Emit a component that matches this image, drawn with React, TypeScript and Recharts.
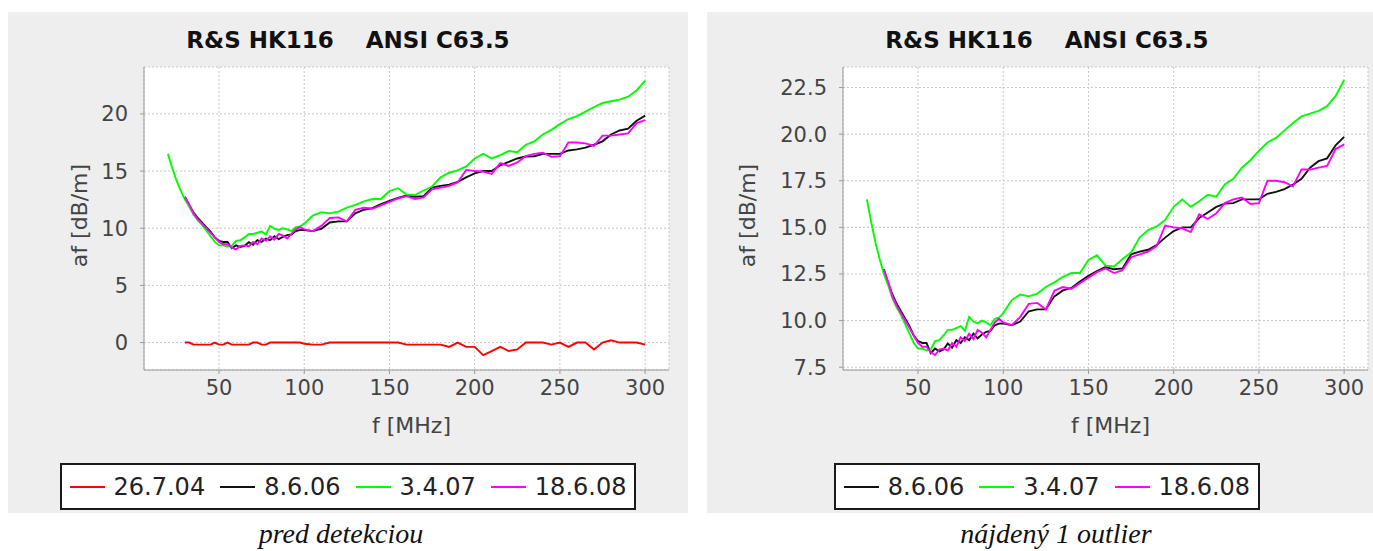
import React from 'react';
import { LineChart, Line, XAxis, YAxis, CartesianGrid, Legend, Label } from 'recharts';

// frequencies [MHz]
const freqsLow = [20, 22.5, 25, 27.5];
const freqs = [
  30, 32.5, 35, 37.5, 40, 42.5, 45, 47.5, 50, 52.5, 55, 57.5, 60, 62.5, 65, 67.5, 70, 72.5, 75, 77.5,
  80, 82.5, 85, 87.5, 90, 92.5, 95, 97.5, 100, 105, 110, 115, 120, 125, 130, 135, 140, 145, 150,
  155, 160, 165, 170, 175, 180, 185, 190, 195, 200, 205, 210, 215, 220, 225, 230, 235, 240, 245, 250,
  255, 260, 265, 270, 275, 280, 285, 290, 295, 300,
];

// af [dB/m] per measurement date
const af260704 = [
  0, 0, -0.18, -0.18, -0.18, -0.18, -0.18, 0, -0.18, -0.18, 0, -0.18, -0.18, -0.18, -0.18, -0.18, 0, 0, -0.18, -0.18,
  0, 0, 0, 0, 0, 0, 0, 0, -0.1, -0.18, -0.18, 0, 0, 0, 0, 0, 0, 0, 0,
  0, -0.18, -0.18, -0.18, -0.18, -0.18, -0.38, 0, -0.38, -0.38, -1.1, -0.75, -0.38, -0.74, -0.6, 0, 0, 0, -0.18, 0,
  -0.38, 0, 0, -0.6, 0, 0.2, 0, 0, 0, -0.18,
];
const af080606 = [
  12.75, 12.0, 11.4, 10.9, 10.5, 10.1, 9.7, 9.2, 8.9, 8.8, 8.8, 8.25, 8.5, 8.35, 8.45, 8.77, 8.55, 8.95, 8.8, 9.1,
  8.95, 9.3, 9.05, 9.25, 9.4, 9.45, 9.75, 9.84, 9.85, 9.75, 9.95, 10.5, 10.6, 10.6, 11.3, 11.62, 11.75, 12.1, 12.4,
  12.65, 12.87, 12.75, 12.8, 13.55, 13.7, 13.8, 14.05, 14.45, 14.8, 15.0, 15.0, 15.5, 15.8, 16.1, 16.27, 16.3, 16.5, 16.5, 16.5,
  16.8, 16.9, 17.05, 17.3, 17.6, 18.2, 18.55, 18.7, 19.4, 19.85,
];
const af030407Low = [16.5, 15.3, 14.2, 13.3];
const af030407 = [
  12.5, 11.9, 11.2, 10.7, 10.3, 9.8, 9.3, 8.8, 8.5, 8.5, 8.4, 8.45, 8.9, 8.95, 9.2, 9.5, 9.5, 9.6, 9.7, 9.45,
  10.2, 9.95, 9.85, 10.0, 9.9, 9.75, 10.1, 10.15, 10.4, 11.1, 11.4, 11.3, 11.45, 11.8, 12.05, 12.35, 12.55, 12.55, 13.25,
  13.5, 12.95, 12.9, 13.3, 13.65, 14.45, 14.85, 15.05, 15.4, 16.1, 16.5, 16.1, 16.4, 16.75, 16.65, 17.3, 17.6, 18.2, 18.6, 19.1,
  19.55, 19.8, 20.2, 20.6, 20.95, 21.1, 21.25, 21.5, 22.05, 22.9,
];
const af180608 = [
  12.7, 12.1, 11.3, 10.8, 10.4, 10.0, 9.6, 9.2, 8.8, 8.6, 8.6, 8.3, 8.15, 8.45, 8.5, 8.4, 8.8, 8.6, 9.1, 8.9,
  9.3, 9.0, 9.5, 9.35, 9.1, 9.5, 9.9, 10.1, 9.9, 9.75, 10.2, 10.9, 10.95, 10.6, 11.6, 11.8, 11.7, 12.0, 12.3,
  12.6, 12.8, 12.55, 12.7, 13.4, 13.55, 13.7, 14.0, 15.1, 15.0, 14.95, 14.75, 15.7, 15.45, 15.75, 16.3, 16.5, 16.6, 16.25, 16.3,
  17.5, 17.5, 17.42, 17.2, 18.1, 18.1, 18.2, 18.3, 19.2, 19.45,
];

const xTicks = [50, 100, 150, 200, 250, 300];
const yTicksAll = [0, 5, 10, 15, 20];
const yTicksClean = [7.5, 10, 12.5, 15, 17.5, 20, 22.5];

const toPoints = (fs: number[], vs: number[]) => fs.map((f, i) => ({ f, v: vs[i] }));

const red = { name: '26.7.04', color: '#ff0000', data: toPoints(freqs, af260704) };
const black = { name: '8.6.06', color: '#111111', data: toPoints(freqs, af080606) };
const green = { name: '3.4.07', color: '#00ff00', data: toPoints([...freqsLow, ...freqs], [...af030407Low, ...af030407]) };
const magenta = { name: '18.6.08', color: '#ff00ff', data: toPoints(freqs, af180608) };

type Series = typeof red;

const SANS = "'DejaVu Sans', sans-serif";
const AXIS_GRAY = '#9a9a9a';
const TEXT_GRAY = '#444444';

// legend box in the order the series were added
const makeLegend = (series: Series[]) => () => (
  <div
    style={{
      display: 'inline-flex',
      alignItems: 'center',
      height: 43,
      padding: '0 8px',
      border: '2px solid #1a1a1a',
      background: '#ffffff',
      fontFamily: SANS,
      fontSize: 24,
      color: '#222222',
    }}
  >
    {series.map((s, i) => (
      <span key={s.name} style={{ display: 'inline-flex', alignItems: 'center', marginLeft: i === 0 ? 0 : 15 }}>
        <span style={{ display: 'inline-block', width: 35, height: 2, background: s.color, marginRight: 9 }} />
        {s.name}
      </span>
    ))}
  </div>
);

const XLabel = (props: any) => {
  const vb = props.viewBox;
  return (
    <text x={vb.x + vb.width / 2 + 5} y={vb.y + 55} textAnchor="middle" dominantBaseline="central"
      fontFamily={SANS} fontSize={22} fill={TEXT_GRAY}>
      f [MHz]
    </text>
  );
};

const makeYLabel = (dx: number) => (props: any) => {
  const vb = props.viewBox;
  const x = vb.x + dx;
  const y = vb.y + vb.height / 2 - 3;
  return (
    <text x={x} y={y} transform={`rotate(-90 ${x} ${y})`} textAnchor="middle" dominantBaseline="central"
      fontFamily={SANS} fontSize={22} fill={TEXT_GRAY}>
      af [dB/m]
    </text>
  );
};

interface PanelProps {
  left: number;
  series: Series[];
  yDomain: [number, number];
  yTicks: number[];
  yFormat: (v: number) => string;
  yLabelX: number;
}

function Panel({ left, series, yDomain, yTicks, yFormat, yLabelX }: PanelProps) {
  return (
    <div style={{ position: 'absolute', left, top: 12, width: 680, height: 501, background: '#eeeeee' }}>
      <div
        style={{
          position: 'absolute', left: 0, top: 14, width: 680, height: 28, lineHeight: '28px',
          textAlign: 'center', whiteSpace: 'pre', fontFamily: SANS, fontWeight: 'bold', fontSize: 23, color: '#111',
        }}
      >
        {'R&S HK116    ANSI C63.5'}
      </div>
      <LineChart width={680} height={501} margin={{ top: 55, right: 19, bottom: 83, left: 0 }}
        style={{ position: 'absolute', left: 0, top: 0 }}>
        <CartesianGrid stroke="#c6c6c6" strokeDasharray="2 2" fill="#ffffff" />
        <XAxis dataKey="f" type="number" domain={[6, 314]} ticks={xTicks} allowDataOverflow height={60}
          tickSize={4} tickMargin={6} stroke={AXIS_GRAY} tick={{ fill: TEXT_GRAY, fontSize: 21, fontFamily: SANS }}>
          <Label content={XLabel} />
        </XAxis>
        <XAxis xAxisId="top" orientation="top" type="number" domain={[6, 314]} height={0}
          tick={false} tickLine={false} stroke={AXIS_GRAY} />
        <YAxis type="number" domain={yDomain} ticks={yTicks} allowDataOverflow width={136}
          tickSize={4} tickMargin={12} stroke={AXIS_GRAY} tickFormatter={yFormat}
          tick={{ fill: TEXT_GRAY, fontSize: 21, fontFamily: SANS }}>
          <Label content={makeYLabel(yLabelX)} />
        </YAxis>
        <YAxis yAxisId="right" orientation="right" width={0} tick={false} tickLine={false} stroke={AXIS_GRAY} />
        <Legend layout="vertical" align="center" verticalAlign="middle" content={makeLegend(series)}
          wrapperStyle={{ left: 0, top: 451, width: 680, textAlign: 'center' }} />
        {series.map((s) => (
          <Line key={s.name} data={s.data} dataKey="v" name={s.name} type="linear" stroke={s.color}
            strokeWidth={1.9} dot={false} activeDot={false} isAnimationActive={false} />
        ))}
      </LineChart>
    </div>
  );
}

const captionStyle: React.CSSProperties = {
  position: 'absolute', top: 518, width: 320, marginLeft: -160, textAlign: 'center',
  fontFamily: "'Liberation Serif', serif", fontStyle: 'italic', fontSize: 28, lineHeight: '31px', color: '#111',
};

export default function App() {
  return (
    <div style={{ position: 'absolute', left: 0, top: 0, width: 1373, height: 551, background: '#ffffff', overflow: 'hidden' }}>
      <Panel left={8} series={[red, black, green, magenta]} yDomain={[-2.4, 24.1]} yTicks={yTicksAll}
        yFormat={(v) => String(v)} yLabelX={71} />
      <Panel left={707} series={[black, green, magenta]} yDomain={[7.35, 23.6]} yTicks={yTicksClean}
        yFormat={(v) => v.toFixed(1)} yLabelX={40} />
      <div style={{ ...captionStyle, left: 341 }}>pred detekciou</div>
      <div style={{ ...captionStyle, left: 1056 }}>nájdený 1 outlier</div>
    </div>
  );
}
